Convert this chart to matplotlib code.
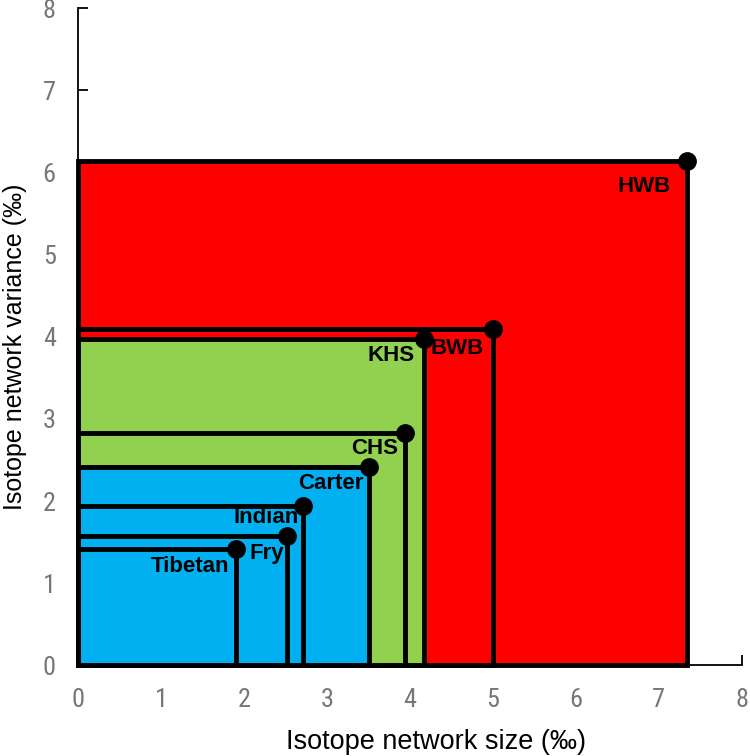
import matplotlib.pyplot as plt
from matplotlib.patches import Rectangle

# values
names = ["HWB", "BWB", "KHS", "CHS", "Carter", "Indian", "Fry", "Tibetan"]
size_x = [7.34, 5.00, 4.17, 3.94, 3.51, 2.71, 2.52, 1.90]
var_y = [6.14, 4.10, 3.97, 2.83, 2.42, 1.94, 1.57, 1.42]
colors = ["#ff0000", "#ff0000", "#92d050", "#92d050",
          "#00b0f0", "#00b0f0", "#00b0f0", "#00b0f0"]
# label offsets (points), all labels right-aligned
offsets = [(-12, -18), (-6.5, -14.5), (-6.5, -12), (-5, -11.5),
           (-4.3, -12), (-3, -8.6), (-2, -12), (-4.3, -13)]

plt.rcParams['font.family'] = ['Liberation Sans', 'DejaVu Sans']

fig = plt.figure(figsize=(7.5, 7.56), dpi=100)
ax = fig.add_axes([0.104, 0.12, 0.885, 0.869])

for i in range(len(names)):
    ax.add_patch(Rectangle((0, 0), size_x[i], var_y[i], facecolor=colors[i],
                           edgecolor='black', linewidth=3.5, clip_on=False, zorder=2))
for i in range(len(names)):
    ax.plot(size_x[i], var_y[i], 'o', color='black', markersize=12.5, clip_on=False, zorder=4)
    dx, dy = offsets[i]
    ax.annotate(names[i], (size_x[i], var_y[i]), xytext=(dx, dy), textcoords='offset points',
                ha='right', va='center', fontsize=16, fontweight='bold', zorder=5)

ax.set_xlim(0, 8)
ax.set_ylim(0, 8)
ax.spines['top'].set_visible(False)
ax.spines['right'].set_visible(False)
ax.spines['left'].set_linewidth(1.3)
ax.spines['bottom'].set_linewidth(1.3)
ax.tick_params(direction='in', length=7, width=1.3, labelsize=19, labelcolor='#777777', pad=16)
for lab in ax.get_xticklabels() + ax.get_yticklabels():
    lab.set_family(['Roboto Condensed', 'Liberation Sans'])

ax.set_xlabel('Isotope network size (‰)', fontsize=19.5, va='baseline')
ax.xaxis.set_label_coords(0.539, -0.1279)
ax.set_ylabel('Isotope network variance (‰)', fontsize=18)
ax.yaxis.set_label_coords(-0.077, 0.485)

plt.savefig('out.png', dpi=100)
